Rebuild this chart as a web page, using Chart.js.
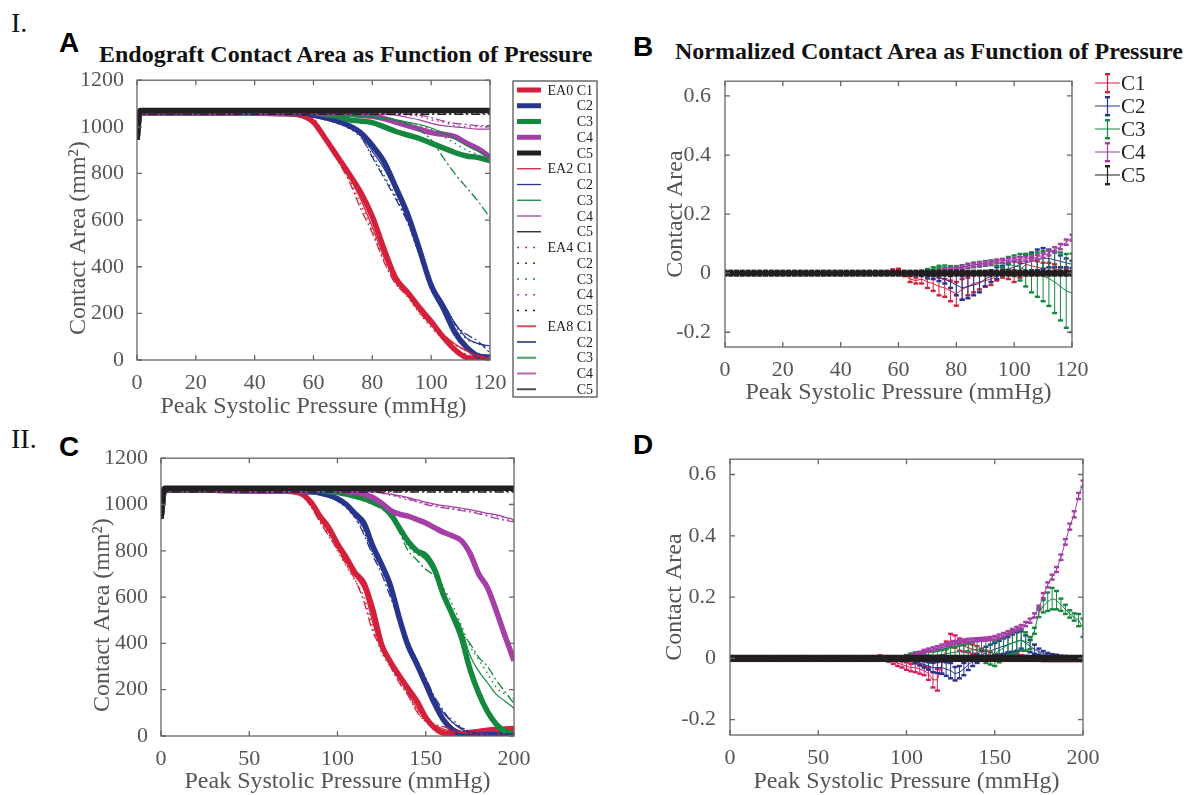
<!DOCTYPE html>
<html>
<head>
<meta charset="utf-8">
<script src="https://cdn.jsdelivr.net/npm/chart.js@4.4.1/dist/chart.umd.min.js"></script>
<style>
  html, body { margin: 0; padding: 0; background: #fff; width: 1193px; height: 795px; overflow: hidden; position: relative; }
  .lbl { position: absolute; white-space: nowrap; line-height: 1; }
  .roman { font-family: 'Liberation Serif', 'Times New Roman', serif; font-size: 28px; color: #111; }
  .letter { font-family: 'Liberation Sans', Arial, sans-serif; font-weight: bold; font-size: 28px; color: #000; }
  .ttl { font-family: 'Liberation Serif', 'Times New Roman', serif; font-weight: bold; font-size: 24px; color: #111; }
  canvas { position: absolute; }
</style>
</head>
<body>
<div class="lbl roman" style="left:11px;top:9px">I.</div>
<div class="lbl roman" style="left:11px;top:425px">II.</div>
<div class="lbl letter" style="left:59px;top:29px">A</div>
<div class="lbl letter" style="left:633px;top:33px">B</div>
<div class="lbl letter" style="left:59px;top:433px">C</div>
<div class="lbl letter" style="left:633px;top:431px">D</div>
<div class="lbl ttl" style="left:99px;top:42px">Endograft Contact Area as Function of Pressure</div>
<div class="lbl ttl" style="left:675px;top:39px">Normalized Contact Area as Function of Pressure</div>

<canvas id="cA" width="565" height="360" style="left:40px;top:62px"></canvas>
<canvas id="cB" width="563" height="345" style="left:630px;top:62px"></canvas>
<canvas id="cC" width="540" height="356" style="left:40px;top:440px"></canvas>
<canvas id="cD" width="563" height="356" style="left:630px;top:440px"></canvas>

<script>
// ---------- panel A : pressure 0-120 mmHg ----------
const A_X = [0, 1, 20, 40, 50, 55, 60, 64, 68, 72, 76, 80, 84, 88, 92, 96, 100, 104, 108, 112, 116, 120];
const A_XTICKS = [0, 20, 40, 60, 80, 100, 120];
const AREA_YTICKS = [0, 200, 400, 600, 800, 1000, 1200];

const A_C1_EA0 = [945,1062,1060,1058,1056,1052,1020,950,875,800,720,615,475,350,290,225,165,100,45,10,3,0];
const A_C1_EA2 = [945,1060,1058,1056,1054,1048,1030,960,880,790,690,570,440,340,285,210,150,110,70,40,15,5];
const A_C1_EA4 = [945,1058,1057,1055,1053,1046,1035,955,870,780,670,560,430,330,270,200,140,90,50,25,10,5];
const A_C1_EA8 = [945,1057,1056,1054,1052,1045,1030,950,860,770,650,545,420,325,275,205,150,100,65,40,20,10];

const A_C2_EA0 = [945,1062,1060,1058,1057,1055,1050,1040,1025,1005,975,920,850,740,625,475,320,225,120,55,18,12];
const A_C2_EA2 = [945,1060,1058,1056,1055,1053,1048,1035,1020,1000,965,895,820,720,600,460,330,250,160,95,70,60];
const A_C2_EA4 = [945,1058,1057,1055,1054,1052,1046,1032,1015,995,955,880,790,700,590,450,320,240,150,90,70,50];
const A_C2_EA8 = [945,1057,1056,1054,1053,1051,1045,1030,1018,1000,960,870,780,690,590,455,325,245,155,110,80,30];

const A_C3_EA0 = [945,1062,1060,1058,1058,1058,1058,1052,1045,1030,1025,1018,1000,980,965,950,930,910,890,875,868,855];
const A_C3_EA2 = [945,1060,1058,1057,1057,1057,1056,1054,1050,1045,1042,1040,1035,1030,1020,1010,995,975,950,920,895,870];
const A_C3_EA4 = [945,1058,1057,1056,1056,1056,1055,1053,1050,1046,1043,1040,1033,1025,1015,1005,990,960,930,900,880,860];
const A_C3_EA8 = [945,1057,1056,1055,1055,1055,1054,1053,1051,1049,1047,1045,1040,1030,1010,985,945,870,800,740,680,610];

const A_C4_EA0 = [945,1062,1060,1058,1058,1058,1058,1057,1056,1055,1050,1045,1035,1020,1005,990,975,968,958,930,905,870];
const A_C4_EA2 = [945,1060,1058,1057,1057,1057,1057,1056,1056,1055,1054,1053,1052,1050,1040,1030,1015,1005,1000,995,990,990];
const A_C4_EA4 = [945,1058,1057,1056,1056,1056,1056,1056,1055,1055,1055,1055,1055,1055,1050,1045,1030,1020,1005,1000,1000,1000];
const A_C4_EA8 = [945,1057,1056,1055,1055,1055,1055,1055,1055,1055,1055,1055,1055,1055,1053,1050,1040,1025,1015,1010,1005,1005];

const A_C5_EA0 = [945,1070,1070,1070,1070,1070,1070,1070,1070,1070,1070,1070,1070,1070,1070,1070,1070,1070,1070,1070,1070,1070];
const A_C5_EA2 = [945,1062,1062,1062,1062,1062,1062,1062,1062,1062,1062,1062,1062,1062,1062,1062,1062,1062,1062,1062,1062,1062];
const A_C5_EA4 = [945,1057,1057,1057,1057,1057,1057,1057,1057,1057,1057,1057,1057,1057,1057,1057,1057,1057,1057,1057,1057,1057];
const A_C5_EA8 = [945,1054,1054,1054,1054,1054,1054,1054,1054,1054,1054,1054,1054,1054,1054,1054,1054,1054,1054,1054,1054,1054];

// ---------- panel C : pressure 0-200 mmHg ----------
const C_X = [0,2,30,60,70,75,80,85,90,95,100,105,110,115,120,125,130,135,140,145,150,155,160,165,170,175,180,185,190,195,200];
const C_XTICKS = [0, 50, 100, 150, 200];

const C_C1_EA0 = [940,1065,1062,1058,1057,1055,1045,1010,950,900,830,770,705,660,545,395,320,260,205,150,80,35,12,8,10,15,20,25,28,30,32];
const C_C1_EA2 = [940,1063,1060,1057,1056,1052,1040,1000,935,880,815,750,690,630,490,370,310,245,185,120,70,45,30,20,15,12,10,10,10,10,10];
const C_C1_EA4 = [940,1062,1059,1056,1055,1050,1035,995,930,870,800,735,670,600,470,360,300,235,180,110,60,40,25,15,12,10,10,10,10,10,10];
const C_C1_EA8 = [940,1061,1058,1055,1054,1050,1038,990,925,865,805,740,675,580,450,380,300,230,175,105,65,50,40,30,20,15,12,10,10,10,10];

const C_C2_EA0 = [940,1065,1062,1058,1057,1057,1056,1054,1050,1040,1025,1000,960,920,820,740,650,510,390,310,225,140,70,28,10,5,5,5,5,5,5];
const C_C2_EA2 = [940,1063,1060,1057,1056,1056,1055,1052,1048,1040,1020,995,950,895,800,730,640,520,410,330,240,160,100,60,30,15,10,8,8,8,8];
const C_C2_EA4 = [940,1062,1059,1056,1055,1055,1054,1051,1046,1035,1015,985,940,880,790,720,620,510,400,320,230,150,100,70,40,20,10,8,8,8,8];
const C_C2_EA8 = [940,1061,1058,1055,1054,1054,1053,1050,1045,1036,1020,990,945,870,780,700,600,500,400,325,250,170,110,60,35,20,12,10,10,10,10];

const C_C3_EA0 = [940,1065,1062,1058,1058,1058,1058,1057,1056,1055,1052,1045,1035,1025,1010,995,960,900,840,800,780,720,610,525,430,290,185,105,50,20,8];
const C_C3_EA2 = [940,1063,1060,1057,1057,1057,1057,1056,1055,1054,1051,1043,1032,1020,1005,990,950,890,830,790,760,700,620,540,470,350,280,230,180,150,120];
const C_C3_EA4 = [940,1062,1059,1056,1056,1056,1056,1055,1054,1053,1050,1042,1030,1018,1002,985,945,885,820,785,765,710,640,570,480,390,330,270,210,180,160];
const C_C3_EA8 = [940,1061,1058,1055,1055,1055,1055,1054,1053,1052,1049,1041,1030,1016,1000,980,945,880,800,760,720,690,620,530,450,400,340,300,240,190,140];

const C_C4_EA0 = [940,1065,1062,1058,1058,1058,1058,1058,1058,1058,1057,1055,1052,1045,1030,1005,975,958,950,935,920,900,880,865,845,790,700,640,540,430,325];
const C_C4_EA2 = [940,1063,1060,1057,1057,1057,1057,1057,1057,1057,1057,1057,1056,1056,1055,1050,1045,1038,1030,1020,1010,1002,995,990,985,978,970,962,955,945,935];
const C_C4_EA4 = [940,1062,1059,1056,1056,1056,1056,1056,1056,1056,1056,1056,1056,1056,1055,1048,1040,1030,1020,1012,1005,998,990,985,980,972,965,958,950,940,930];
const C_C4_EA8 = [940,1061,1058,1055,1055,1055,1055,1055,1055,1055,1055,1055,1055,1055,1055,1050,1045,1035,1025,1012,1000,992,985,980,975,968,960,950,940,932,925];

const C_C5_EA0 = [940,1070,1070,1070,1070,1070,1070,1070,1070,1070,1070,1070,1070,1070,1070,1070,1070,1070,1070,1070,1070,1070,1070,1070,1070,1070,1070,1070,1070,1070,1070];
const C_C5_EA2 = [940,1062,1062,1062,1062,1062,1062,1062,1062,1062,1062,1062,1062,1062,1062,1062,1062,1062,1062,1062,1062,1062,1062,1062,1062,1062,1062,1062,1062,1062,1062];
const C_C5_EA4 = [940,1057,1057,1057,1057,1057,1057,1057,1057,1057,1057,1057,1057,1057,1057,1057,1057,1057,1057,1057,1057,1057,1057,1057,1057,1057,1057,1057,1057,1057,1057];
const C_C5_EA8 = [940,1054,1054,1054,1054,1054,1054,1054,1054,1054,1054,1054,1054,1054,1054,1054,1054,1054,1054,1054,1054,1054,1054,1054,1054,1054,1054,1054,1054,1054,1054];

// ---------- panel B : normalized, 0-120 mmHg (mean and error) ----------
const NORM_YTICKS = [-0.2, 0, 0.2, 0.4, 0.6];
const B_X = [0,2,4,6,8,10,12,14,16,18,
  20,22,24,26,28,30,32,34,36,38,
  40,42,44,46,48,50,52,54,56,58,
  60,62,64,66,68,70,72,74,76,78,
  80,82,84,86,88,90,92,94,96,98,
  100,102,104,106,108,110,112,114,116,118,
  120];

const B_C1 = [0,0,0,0,0,0,0,0,0,0,
  0,0,0,0,0,0,0,0,0,0,
  0,0,0,0,0,0,0,0,0.002,0.008,
  0.01,-0.005,-0.02,-0.025,-0.02,-0.03,-0.035,-0.045,-0.05,-0.06,
  -0.07,-0.055,-0.045,-0.035,-0.03,-0.025,-0.02,-0.01,0.0,-0.005,
  -0.01,0.01,0.03,0.025,0.02,0.015,0.02,0.015,0.01,0.005,
  0.0];
const B_C1_ERR = [0,0,0,0,0,0,0,0,0,0,
  0,0,0,0,0,0,0,0,0,0,
  0,0,0,0,0,0,0,0,0.003,0.005,
  0.005,0.005,0.01,0.01,0.015,0.02,0.025,0.03,0.03,0.035,
  0.04,0.035,0.03,0.03,0.025,0.02,0.02,0.015,0.015,0.015,
  0.02,0.025,0.03,0.025,0.02,0.02,0.015,0.015,0.01,0.01,
  0.005];

const B_C2 = [0,0,0,0,0,0,0,0,0,0,
  0,0,0,0,0,0,0,0,0,0,
  0,0,0,0,0,0,0,0,0,0,
  0,0,0,0.0,-0.005,-0.01,-0.01,-0.015,-0.02,-0.03,
  -0.04,-0.05,-0.045,-0.04,-0.035,-0.02,-0.01,0.0,0.01,0.015,
  0.02,0.03,0.035,0.04,0.045,0.05,0.05,0.045,0.04,0.035,
  0.03];
const B_C2_ERR = [0,0,0,0,0,0,0,0,0,0,
  0,0,0,0,0,0,0,0,0,0,
  0,0,0,0,0,0,0,0,0,0,
  0,0,0,0.003,0.005,0.008,0.01,0.012,0.015,0.02,
  0.035,0.04,0.04,0.035,0.03,0.025,0.02,0.02,0.015,0.015,
  0.02,0.025,0.03,0.03,0.035,0.035,0.03,0.025,0.02,0.015,
  0.012];

const B_C3 = [0,0,0,0,0,0,0,0,0,0,
  0,0,0,0,0,0,0,0,0,0,
  0,0,0,0,0,0,0,0,0,0,
  0,0,0,0,0.005,0.01,0.015,0.02,0.02,0.018,
  0.018,0.02,0.025,0.028,0.03,0.033,0.035,0.035,0.033,0.03,
  0.025,0.02,0.01,0.0,-0.005,-0.01,-0.018,-0.03,-0.045,-0.06,
  -0.067];
const B_C3_ERR = [0,0,0,0,0,0,0,0,0,0,
  0,0,0,0,0,0,0,0,0,0,
  0,0,0,0,0,0,0,0,0,0,
  0,0,0,0,0.003,0.004,0.005,0.005,0.006,0.006,
  0.006,0.007,0.007,0.008,0.008,0.008,0.008,0.01,0.015,0.025,
  0.035,0.045,0.055,0.065,0.075,0.085,0.093,0.105,0.115,0.125,
  0.133];

const B_C4 = [0,0,0,0,0,0,0,0,0,0,
  0,0,0,0,0,0,0,0,0,0,
  0,0,0,0,0,0,0,0,0,0,
  0,0,0,0,0,0,0.003,0.006,0.01,0.013,
  0.016,0.02,0.025,0.028,0.03,0.033,0.036,0.04,0.042,0.044,
  0.045,0.047,0.048,0.05,0.055,0.06,0.068,0.08,0.09,0.105,
  0.12];
const B_C4_ERR = [0,0,0,0,0,0,0,0,0,0,
  0,0,0,0,0,0,0,0,0,0,
  0,0,0,0,0,0,0,0,0,0,
  0,0,0,0,0,0,0.003,0.004,0.005,0.005,
  0.005,0.005,0.006,0.006,0.006,0.006,0.006,0.006,0.006,0.006,
  0.007,0.007,0.007,0.007,0.007,0.008,0.008,0.008,0.009,0.009,
  0.01];

const B_C5 = [0,0,0,0,0,0,0,0,0,0,
  0,0,0,0,0,0,0,0,0,0,
  0,0,0,0,0,0,0,0,0,0,
  0,0,0,0,0,0,0,0,0,0,
  0,0,0,0,0,0,0,0,0,0,
  0,0,0,0,0,0,0,0,0,0,
  0];
const B_C5_ERR = [0.008,0.008,0.008,0.008,0.008,0.008,0.008,0.008,0.008,0.008,
  0.008,0.008,0.008,0.008,0.008,0.008,0.008,0.008,0.008,0.008,
  0.008,0.008,0.008,0.008,0.008,0.008,0.008,0.008,0.008,0.008,
  0.008,0.008,0.008,0.008,0.008,0.008,0.008,0.008,0.008,0.008,
  0.008,0.008,0.008,0.008,0.008,0.008,0.008,0.008,0.008,0.008,
  0.008,0.008,0.008,0.008,0.008,0.008,0.008,0.008,0.008,0.008,
  0.008];

// ---------- panel D : normalized, 0-200 mmHg (mean and error) ----------
const D_X = [0,2.5,5,7.5,10,12.5,15,17.5,20,22.5,
  25,27.5,30,32.5,35,37.5,40,42.5,45,47.5,
  50,52.5,55,57.5,60,62.5,65,67.5,70,72.5,
  75,77.5,80,82.5,85,87.5,90,92.5,95,97.5,
  100,102.5,105,107.5,110,112.5,115,117.5,120,122.5,
  125,127.5,130,132.5,135,137.5,140,142.5,145,147.5,
  150,152.5,155,157.5,160,162.5,165,167.5,170,172.5,
  175,177.5,180,182.5,185,187.5,190,192.5,195,197.5,
  200];

const D_C1 = [0,0,0,0,0,0,0,0,0,0,
  0,0,0,0,0,0,0,0,0,0,
  0,0,0,0,0,0,0,0,0,0,
  0,0,0.0,0.003,0.005,0.0,-0.005,-0.01,-0.015,-0.02,
  -0.025,-0.03,-0.03,-0.035,-0.04,-0.05,-0.07,-0.07,-0.02,0.03,
  0.06,0.055,0.045,0.04,0.035,0.03,0.025,0.02,0.015,0.01,
  0.005,0.005,0.008,0.01,0.01,0.008,0.005,0.003,0.0,-0.002,
  -0.004,-0.005,-0.005,-0.005,-0.005,-0.005,-0.005,-0.005,-0.005,-0.005,
  -0.005];
const D_C1_ERR = [0,0,0,0,0,0,0,0,0,0,
  0,0,0,0,0,0,0,0,0,0,
  0,0,0,0,0,0,0,0,0,0,
  0,0,0.003,0.004,0.005,0.005,0.006,0.008,0.01,0.01,
  0.012,0.012,0.015,0.015,0.015,0.02,0.025,0.035,0.03,0.025,
  0.02,0.02,0.02,0.018,0.015,0.015,0.015,0.012,0.01,0.01,
  0.008,0.006,0.006,0.006,0.006,0.005,0.005,0.005,0.005,0.004,
  0.004,0.004,0.004,0.004,0.004,0.004,0.004,0.004,0.004,0.004,
  0.004];

const D_C2 = [0,0,0,0,0,0,0,0,0,0,
  0,0,0,0,0,0,0,0,0,0,
  0,0,0,0,0,0,0,0,0,0,
  0,0,0,0,0,0,0,0,0,0,
  0,-0.005,-0.01,-0.015,-0.02,-0.025,-0.03,-0.03,-0.03,-0.035,
  -0.04,-0.05,-0.045,-0.035,-0.02,-0.01,0.0,0.01,0.02,0.025,
  0.03,0.035,0.04,0.045,0.05,0.055,0.06,0.05,0.04,0.03,
  0.022,0.016,0.012,0.009,0.007,0.005,0.004,0.003,0.002,0.001,
  0.0];
const D_C2_ERR = [0,0,0,0,0,0,0,0,0,0,
  0,0,0,0,0,0,0,0,0,0,
  0,0,0,0,0,0,0,0,0,0,
  0,0,0,0,0,0,0,0,0,0,
  0,0.004,0.006,0.008,0.01,0.012,0.015,0.018,0.02,0.022,
  0.025,0.022,0.02,0.02,0.018,0.015,0.015,0.015,0.018,0.02,
  0.02,0.022,0.025,0.025,0.028,0.03,0.028,0.025,0.02,0.015,
  0.01,0.008,0.006,0.005,0.005,0.004,0.004,0.004,0.004,0.004,
  0.004];

const D_C3 = [0,0,0,0,0,0,0,0,0,0,
  0,0,0,0,0,0,0,0,0,0,
  0,0,0,0,0,0,0,0,0,0,
  0,0,0,0,0,0,0,0,0,0.003,
  0.005,0.008,0.01,0.01,0.012,0.012,0.01,0.01,0.012,0.015,
  0.018,0.02,0.022,0.024,0.026,0.028,0.03,0.03,0.025,0.02,
  0.015,0.025,0.035,0.045,0.05,0.055,0.06,0.055,0.05,0.09,
  0.15,0.17,0.185,0.195,0.19,0.175,0.16,0.145,0.135,0.125,
  0.1];
const D_C3_ERR = [0,0,0,0,0,0,0,0,0,0,
  0,0,0,0,0,0,0,0,0,0,
  0,0,0,0,0,0,0,0,0,0,
  0,0,0,0,0,0,0,0,0,0.004,
  0.006,0.008,0.01,0.01,0.012,0.012,0.012,0.015,0.015,0.015,
  0.018,0.018,0.02,0.02,0.022,0.025,0.03,0.035,0.04,0.04,
  0.04,0.038,0.035,0.035,0.04,0.038,0.035,0.03,0.02,0.01,
  0.015,0.02,0.03,0.035,0.03,0.02,0.015,0.012,0.012,0.02,
  0.03];

const D_C4 = [0,0,0,0,0,0,0,0,0,0,
  0,0,0,0,0,0,0,0,0,0,
  0,0,0,0,0,0,0,0,0,0,
  0,0,0,0,0,0,0,0,0,0.002,
  0.004,0.008,0.013,0.018,0.023,0.027,0.031,0.035,0.04,0.044,
  0.048,0.052,0.055,0.057,0.059,0.06,0.061,0.062,0.063,0.065,
  0.067,0.072,0.077,0.083,0.09,0.097,0.103,0.112,0.123,0.14,
  0.165,0.205,0.24,0.265,0.29,0.33,0.38,0.43,0.47,0.53,
  0.57];
const D_C4_ERR = [0,0,0,0,0,0,0,0,0,0,
  0,0,0,0,0,0,0,0,0,0,
  0,0,0,0,0,0,0,0,0,0,
  0,0,0,0,0,0,0,0,0,0.003,
  0.003,0.004,0.004,0.004,0.005,0.005,0.005,0.005,0.005,0.005,
  0.005,0.005,0.005,0.005,0.005,0.005,0.005,0.005,0.005,0.005,
  0.006,0.006,0.006,0.006,0.006,0.006,0.006,0.007,0.007,0.007,
  0.007,0.008,0.008,0.008,0.008,0.009,0.009,0.01,0.01,0.01,
  0.01];

const D_C5 = [0,0,0,0,0,0,0,0,0,0,
  0,0,0,0,0,0,0,0,0,0,
  0,0,0,0,0,0,0,0,0,0,
  0,0,0,0,0,0,0,0,0,0,
  0,0,0,0,0,0,0,0,0,0,
  0,0,0,0,0,0,0,0,0,0,
  0,0,0,0,0,0,0,0,0,0,
  0,0,0,0,0,0,0,0,0,0,
  0];
const D_C5_ERR = [0.008,0.008,0.008,0.008,0.008,0.008,0.008,0.008,0.008,0.008,
  0.008,0.008,0.008,0.008,0.008,0.008,0.008,0.008,0.008,0.008,
  0.008,0.008,0.008,0.008,0.008,0.008,0.008,0.008,0.008,0.008,
  0.008,0.008,0.008,0.008,0.008,0.008,0.008,0.008,0.008,0.008,
  0.008,0.008,0.008,0.008,0.008,0.008,0.008,0.008,0.008,0.008,
  0.008,0.008,0.008,0.008,0.008,0.008,0.008,0.008,0.008,0.008,
  0.008,0.008,0.008,0.008,0.008,0.008,0.008,0.008,0.008,0.008,
  0.008,0.008,0.008,0.008,0.008,0.008,0.008,0.008,0.008,0.008,
  0.008];

const SERIES_NAMES = ['C1', 'C2', 'C3', 'C4', 'C5'];
const EA_NAMES = ['EA0', 'EA2', 'EA4', 'EA8'];

// ---------- styling ----------
const COLORS = ['#d4203a', '#27358d', '#15883f', '#a53ea7', '#231f20'];
const COLORS_D = ['#d81f5d', '#27358d', '#15883f', '#a53ea7', '#231f20'];
const EA_STYLE = [
  { width: 5.5, dash: [], legendDash: [], legendWidth: 5 },
  { width: 1.2, dash: [], legendDash: [], legendWidth: 1.3 },
  { width: 1.5, dash: [1.5, 4], legendDash: [2, 6], legendWidth: 1.5 },
  { width: 1.3, dash: [9, 3, 2, 3], legendDash: [], legendWidth: 2 }
];
const SERIF = "'Liberation Serif', 'Times New Roman', serif";
Chart.defaults.font.family = SERIF;
Chart.defaults.color = '#555';
Chart.defaults.animation = false;

// MATLAB-like box with inward ticks on all four sides
const frameTicks = {
  id: 'frameTicks',
  afterDraw(chart) {
    const { ctx, chartArea: a, scales: { x, y } } = chart;
    ctx.save();
    ctx.strokeStyle = '#666';
    ctx.lineWidth = 1.3;
    ctx.strokeRect(a.left, a.top, a.right - a.left, a.bottom - a.top);
    ctx.beginPath();
    x.ticks.forEach(t => {
      const px = x.getPixelForValue(t.value);
      ctx.moveTo(px, a.bottom); ctx.lineTo(px, a.bottom - 5);
      ctx.moveTo(px, a.top); ctx.lineTo(px, a.top + 5);
    });
    y.ticks.forEach(t => {
      const py = y.getPixelForValue(t.value);
      ctx.moveTo(a.left, py); ctx.lineTo(a.left + 5, py);
      ctx.moveTo(a.right, py); ctx.lineTo(a.right - 5, py);
    });
    ctx.stroke();
    ctx.restore();
  }
};

// vertical error bars with caps, drawn right after each dataset
const errorBars = {
  id: 'errorBars',
  afterDatasetDraw(chart, args) {
    const ds = chart.data.datasets[args.index];
    if (!ds.errors) return;
    const { ctx, chartArea: a, scales: { x, y } } = chart;
    ctx.save();
    ctx.beginPath();
    ctx.rect(a.left, a.top, a.right - a.left, a.bottom - a.top);
    ctx.clip();
    ctx.strokeStyle = ds.borderColor;
    ctx.fillStyle = ds.borderColor;
    ctx.lineWidth = 1;
    ds.data.forEach((p, i) => {
      const e = ds.errors[i];
      const px = x.getPixelForValue(p.x);
      const lo = y.getPixelForValue(p.y - e);
      const hi = y.getPixelForValue(p.y + e);
      ctx.beginPath();
      ctx.moveTo(px, lo); ctx.lineTo(px, hi);
      ctx.stroke();
      ctx.fillRect(px - 2.5, lo - 1.2, 5, 2.4);
      ctx.fillRect(px - 2.5, hi - 1.2, 5, 2.4);
    });
    ctx.restore();
  }
};

const legendA = {
  id: 'legendA',
  afterDraw(chart) {
    const ctx = chart.ctx;
    const bx = 473, by = 19, bw = 84, bh = 316;
    ctx.save();
    ctx.fillStyle = '#fff';
    ctx.fillRect(bx, by, bw, bh);
    ctx.strokeStyle = '#444';
    ctx.lineWidth = 1.2;
    ctx.strokeRect(bx, by, bw, bh);
    ctx.font = '14px ' + SERIF;
    ctx.textAlign = 'right';
    ctx.textBaseline = 'middle';
    let row = 0;
    EA_NAMES.forEach((ea, e) => {
      SERIES_NAMES.forEach((name, k) => {
        const yy = by + 9 + row * 15.75;
        ctx.strokeStyle = COLORS[k];
        ctx.globalAlpha = e === 3 ? 0.8 : 1;
        ctx.lineWidth = EA_STYLE[e].legendWidth;
        ctx.setLineDash(EA_STYLE[e].legendDash);
        ctx.beginPath();
        ctx.moveTo(bx + 4, yy);
        ctx.lineTo(bx + (e === 3 ? 23 : 28), yy);
        ctx.stroke();
        ctx.setLineDash([]);
        ctx.globalAlpha = 1;
        ctx.fillStyle = '#222';
        ctx.fillText(k === 0 ? ea + ' ' + name : name, bx + bw - 4, yy + 1);
        row++;
      });
    });
    ctx.restore();
  }
};

const legendB = {
  id: 'legendB',
  afterDraw(chart) {
    const ctx = chart.ctx;
    ctx.save();
    ctx.font = '21px ' + SERIF;
    ctx.textAlign = 'left';
    ctx.textBaseline = 'middle';
    SERIES_NAMES.forEach((name, k) => {
      const yy = 21 + k * 23;
      ctx.strokeStyle = COLORS[k];
      ctx.fillStyle = COLORS[k];
      ctx.lineWidth = 1.2;
      ctx.beginPath();
      ctx.moveTo(465, yy); ctx.lineTo(490, yy);
      ctx.moveTo(477.5, yy - 9); ctx.lineTo(477.5, yy + 9);
      ctx.stroke();
      ctx.fillRect(475, yy - 10, 5, 2.4);
      ctx.fillRect(475, yy + 8, 5, 2.4);
      ctx.fillStyle = '#222';
      ctx.fillText(name, 491, yy + 1);
    });
    ctx.restore();
  }
};

function linePoints(xs, ys) {
  return xs.map((x, i) => ({ x: x, y: ys[i] }));
}

// thick EA0 lines first, thin EA2/EA4/EA8 on top, thick C5 last
function areaDatasets(xs, table) {
  const sets = [];
  const add = (e, k) => sets.push({
    label: EA_NAMES[e] + ' ' + SERIES_NAMES[k],
    data: linePoints(xs, table[e][k]),
    borderColor: COLORS[k],
    borderWidth: EA_STYLE[e].width,
    borderDash: EA_STYLE[e].dash,
    pointRadius: 0,
    cubicInterpolationMode: 'monotone'
  });
  [0, 1, 2, 3].forEach(k => add(0, k));
  [1, 2, 3].forEach(e => [0, 1, 2, 3, 4].forEach(k => add(e, k)));
  add(0, 4);
  sets.forEach((s, i) => { s.order = sets.length - i; });
  return sets;
}

function normDatasets(xs, means, errs, colors) {
  const sets = means.map((m, k) => ({
    label: SERIES_NAMES[k],
    data: linePoints(xs, m),
    errors: errs[k],
    borderColor: colors[k],
    borderWidth: k === 4 ? 5 : 1,
    pointRadius: 0,
    tension: 0
  }));
  sets.forEach((s, i) => { s.order = sets.length - i; });
  return sets;
}

function makeScales(g, xTicks, yTicks, yMin, yMax, yTitle, yFmt) {
  return {
    x: {
      type: 'linear',
      min: xTicks[0],
      max: xTicks[xTicks.length - 1],
      grid: { display: false },
      border: { display: false },
      afterBuildTicks: s => { s.ticks = xTicks.map(v => ({ value: v })); },
      afterFit: s => { s.height = g.xh; },
      ticks: { font: { family: SERIF, size: 22 }, color: '#555', padding: g.xpad, maxRotation: 0, autoSkip: false },
      title: { display: true, text: 'Peak Systolic Pressure (mmHg)', font: { family: SERIF, size: 24 }, color: '#555', padding: 0 }
    },
    y: {
      type: 'linear',
      min: yMin,
      max: yMax,
      grid: { display: false },
      border: { display: false },
      afterBuildTicks: s => { s.ticks = yTicks.map(v => ({ value: v })); },
      afterFit: s => { s.width = g.yw; },
      ticks: { font: { family: SERIF, size: 22 }, color: '#555', padding: g.ypad, autoSkip: false, callback: yFmt },
      title: { display: true, text: yTitle, font: { family: SERIF, size: 24 }, color: '#555', padding: 0 }
    }
  };
}

function makeChart(id, g, datasets, scales, extraPlugins) {
  return new Chart(document.getElementById(id), {
    type: 'line',
    data: { datasets: datasets },
    options: {
      responsive: false,
      animation: false,
      layout: { padding: g.pad },
      plugins: { legend: { display: false }, tooltip: { enabled: false } },
      scales: scales
    },
    plugins: [errorBars, frameTicks].concat(extraPlugins)
  });
}

const areaFmt = v => String(v);
const normFmt = v => (Math.abs(v) < 1e-9 ? '0' : v.toFixed(1));
const AREA_TITLE = 'Contact Area (mm\u00B2)\u2003\u2002';

// panel geometry (canvas-relative)
const GA = { pad: { left: 24, top: 18, right: 115, bottom: 1 }, yw: 73, xh: 61, xpad: 2, ypad: 5 };
const GB = { pad: { left: 31, top: 8, right: 121, bottom: 0 }, yw: 64, xh: 60, xpad: 2, ypad: 6 };
const GC = { pad: { left: 48, top: 15, right: 66, bottom: 0 }, yw: 73, xh: 60, xpad: 2, ypad: 5 };
const GD = { pad: { left: 30, top: 13, right: 110, bottom: 0 }, yw: 70, xh: 61, xpad: 2, ypad: 6 };

const A_TABLE = [
  [A_C1_EA0, A_C2_EA0, A_C3_EA0, A_C4_EA0, A_C5_EA0],
  [A_C1_EA2, A_C2_EA2, A_C3_EA2, A_C4_EA2, A_C5_EA2],
  [A_C1_EA4, A_C2_EA4, A_C3_EA4, A_C4_EA4, A_C5_EA4],
  [A_C1_EA8, A_C2_EA8, A_C3_EA8, A_C4_EA8, A_C5_EA8]
];
const C_TABLE = [
  [C_C1_EA0, C_C2_EA0, C_C3_EA0, C_C4_EA0, C_C5_EA0],
  [C_C1_EA2, C_C2_EA2, C_C3_EA2, C_C4_EA2, C_C5_EA2],
  [C_C1_EA4, C_C2_EA4, C_C3_EA4, C_C4_EA4, C_C5_EA4],
  [C_C1_EA8, C_C2_EA8, C_C3_EA8, C_C4_EA8, C_C5_EA8]
];

makeChart('cA', GA, areaDatasets(A_X, A_TABLE),
  makeScales(GA, A_XTICKS, AREA_YTICKS, 0, 1200, AREA_TITLE, areaFmt), [legendA]);

makeChart('cB', GB,
  normDatasets(B_X, [B_C1, B_C2, B_C3, B_C4, B_C5], [B_C1_ERR, B_C2_ERR, B_C3_ERR, B_C4_ERR, B_C5_ERR], COLORS),
  makeScales(GB, A_XTICKS, NORM_YTICKS, -0.25, 0.65, 'Contact Area', normFmt), [legendB]);

makeChart('cC', GC, areaDatasets(C_X, C_TABLE),
  makeScales(GC, C_XTICKS, AREA_YTICKS, 0, 1200, AREA_TITLE, areaFmt), []);

makeChart('cD', GD,
  normDatasets(D_X, [D_C1, D_C2, D_C3, D_C4, D_C5], [D_C1_ERR, D_C2_ERR, D_C3_ERR, D_C4_ERR, D_C5_ERR], COLORS_D),
  makeScales(GD, C_XTICKS, NORM_YTICKS, -0.25, 0.65, 'Contact Area', normFmt), []);
</script>
</body>
</html>
